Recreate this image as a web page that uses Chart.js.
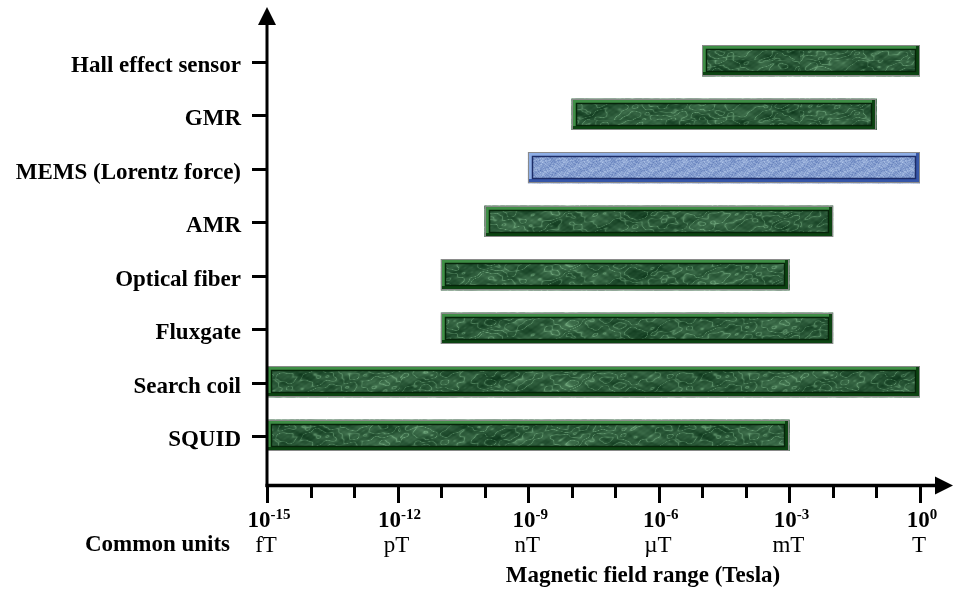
<!DOCTYPE html>
<html>
<head>
<meta charset="utf-8">
<script src="https://cdn.jsdelivr.net/npm/chart.js@4"></script>
<style>
  html, body { margin: 0; padding: 0; background: #ffffff; }
  #wrap { width: 955px; height: 590px; position: relative; }
</style>
</head>
<body>
<div id="wrap"><canvas id="c" width="955" height="590"></canvas></div>
<script>
// ---- data (exponents of 10, in Tesla) ----
const categories = ["Hall effect sensor", "GMR", "MEMS (Lorentz force)", "AMR", "Optical fiber", "Fluxgate", "Search coil", "SQUID"];
const rangeStart = [-5, -8, -9, -10, -11, -11, -15, -15];
const rangeEnd   = [ 0, -1,  0,  -2,  -3,  -2,   0,  -3];
const highlighted = ["MEMS (Lorentz force)"];
const tickExponents = [-15, -12, -9, -6, -3, 0];
const unitLabels = ["fT", "pT", "nT", "\u00B5T", "mT", "T"];
const minorTickExponents = [-15,-14,-13,-12,-11,-10,-9,-8,-7,-6,-5,-4,-3,-2,-1,0];
const unitsRowLabel = "Common units";
const xTitle = "Magnetic field range (Tesla)";

const canvas = document.getElementById('c');
const ctx0 = canvas.getContext('2d');

// ---- textures (decorative, deterministic sine-based) ----
function waves(x, y) {
  return Math.sin(x * 0.031 + y * 0.093 + 0.4)
       + 0.8 * Math.sin(x * 0.057 - y * 0.141 + 1.9)
       + 0.6 * Math.sin(x * 0.113 + y * 0.203 + 3.1)
       + 0.4 * Math.sin(x * 0.197 - y * 0.317 + 0.7)
       + 0.3 * Math.sin(x * 0.331 + y * 0.471 + 2.3);
}
function makeTexture(w, h, dark, light, mode) {
  const off = document.createElement('canvas');
  off.width = w; off.height = h;
  const c = off.getContext('2d');
  const img = c.createImageData(w, h);
  for (let y = 0; y < h; y++) {
    for (let x = 0; x < w; x++) {
      let v;
      if (mode === 'marble') {
        const n = waves(x, y);
        const warp = waves(x * 1.7 + 40, y * 1.7 + 13);
        const vein = 1 - Math.abs(Math.sin(n * 2.2 + warp * 1.3));
        const fine = waves(x * 3.1 + 7, y * 3.1 + 91);
        v = 0.25 + 0.45 * Math.pow(vein, 3) + 0.06 * fine + 0.05 * n;
      } else {
        const a = Math.sin(x * 1.3 + Math.sin(y * 0.7) * 2.0);
        const b = Math.sin(y * 1.7 + Math.sin(x * 0.5) * 2.0);
        const d = Math.sin(x * 0.29 + y * 0.53);
        v = 0.55 + 0.18 * a * b + 0.12 * Math.sin(x * 2.1 + y * 3.3) * Math.sin(x * 0.9 - y * 1.4) + 0.08 * d;
      }
      v = Math.max(0, Math.min(1, v));
      const i = (y * w + x) * 4;
      img.data[i]   = dark[0] + (light[0] - dark[0]) * v;
      img.data[i+1] = dark[1] + (light[1] - dark[1]) * v;
      img.data[i+2] = dark[2] + (light[2] - dark[2]) * v;
      img.data[i+3] = 255;
    }
  }
  c.putImageData(img, 0, 0);
  return ctx0.createPattern(off, 'repeat');
}
const greenPattern = makeTexture(400, 60, [16, 58, 30], [120, 176, 132], 'marble');
const bluePattern  = makeTexture(60, 40, [70, 100, 170], [190, 210, 240], 'weave');

const isHi = c => highlighted.includes(c);

// ---- custom plugin: bar bevels, axes with arrows, tick labels ----
const SERIF = "'Liberation Serif', 'Times New Roman', serif";
const decor = {
  id: 'decor',
  afterDatasetsDraw(chart) {
    const ctx = chart.ctx;
    const meta = chart.getDatasetMeta(0);
    meta.data.forEach((el, i) => {
      const p = el.getProps(['x', 'y', 'base', 'height'], true);
      const x0 = Math.round(Math.min(p.x, p.base)), x1 = Math.round(Math.max(p.x, p.base));
      const y0 = Math.round(p.y - p.height / 2), y1 = Math.round(p.y + p.height / 2);
      const hi = isHi(categories[i]);
      const lightC = hi ? '#8eaee6' : '#3f8e46';
      const darkC  = hi ? '#3656a8' : '#0c4412';
      const innerC = hi ? '#1c2c66' : '#06240a';
      ctx.save();
      ctx.strokeStyle = '#8a8a8a'; ctx.lineWidth = 1;
      ctx.strokeRect(x0 + 0.5, y0 + 0.5, x1 - x0 - 1, y1 - y0 - 1);
      ctx.fillStyle = lightC;
      ctx.fillRect(x0 + 1, y0 + 1, x1 - x0 - 2, 3);
      ctx.fillRect(x0 + 1, y0 + 1, 3, y1 - y0 - 2);
      ctx.fillStyle = darkC;
      ctx.fillRect(x0 + 1, y1 - 4, x1 - x0 - 2, 3);
      ctx.fillRect(x1 - 4, y0 + 1, 3, y1 - y0 - 2);
      ctx.strokeStyle = innerC; ctx.lineWidth = 1.5;
      ctx.strokeRect(x0 + 4.5, y0 + 4.5, x1 - x0 - 9, y1 - y0 - 9);
      ctx.restore();
    });
  },
  afterDraw(chart) {
    const ctx = chart.ctx;
    const xs = chart.scales.x, ys = chart.scales.y;
    const axX = xs.getPixelForValue(-15);
    const axY = 485.5;
    ctx.save();
    ctx.strokeStyle = '#000'; ctx.fillStyle = '#000';
    ctx.lineCap = 'butt';
    // y axis
    ctx.lineWidth = 3;
    ctx.beginPath(); ctx.moveTo(axX, axY + 1.5); ctx.lineTo(axX, 22); ctx.stroke();
    ctx.beginPath(); ctx.moveTo(axX, 7); ctx.lineTo(axX - 9, 25); ctx.lineTo(axX + 9, 25); ctx.closePath(); ctx.fill();
    // x axis
    ctx.lineWidth = 3.5;
    ctx.beginPath(); ctx.moveTo(axX - 1.5, axY); ctx.lineTo(938, axY); ctx.stroke();
    ctx.beginPath(); ctx.moveTo(953, axY); ctx.lineTo(935, axY - 9); ctx.lineTo(935, axY + 9); ctx.closePath(); ctx.fill();
    // x ticks
    ctx.lineWidth = 3;
    minorTickExponents.forEach(e => {
      const px = Math.round(xs.getPixelForValue(e)) + 0.5;
      const major = tickExponents.includes(e);
      ctx.beginPath(); ctx.moveTo(px, axY); ctx.lineTo(px, major ? 503 : 498); ctx.stroke();
    });
    // y ticks and labels
    ctx.textAlign = 'right'; ctx.textBaseline = 'alphabetic';
    ctx.font = 'bold 23px ' + SERIF;
    categories.forEach((c, i) => {
      const py = Math.round(ys.getPixelForValue(i)) + 1.5;
      ctx.beginPath(); ctx.moveTo(252, py); ctx.lineTo(axX, py); ctx.stroke();
      ctx.fillText(c, 241, py + 9.5);
    });
    // x tick labels: 10^e
    tickExponents.forEach((e, i) => {
      const px = xs.getPixelForValue(e);
      ctx.font = 'bold 23px ' + SERIF;
      const baseW = ctx.measureText('10').width;
      ctx.font = 'bold 15px ' + SERIF;
      const sup = String(e);
      const supW = ctx.measureText(sup).width;
      const start = px - (baseW + supW) / 2 + 2;
      ctx.textAlign = 'left';
      ctx.font = 'bold 23px ' + SERIF;
      ctx.fillText('10', start, 527);
      ctx.font = 'bold 15px ' + SERIF;
      ctx.fillText(sup, start + baseW, 519);
      ctx.textAlign = 'center';
      ctx.font = '23px ' + SERIF;
      ctx.fillText(unitLabels[i], px - 1, 552);
    });
    ctx.textAlign = 'left';
    ctx.font = 'bold 23px ' + SERIF;
    ctx.fillText(unitsRowLabel, 85, 551);
    ctx.textAlign = 'center';
    ctx.fillText(xTitle, 643, 582);
    ctx.restore();
  }
};

new Chart(canvas, {
  type: 'bar',
  data: {
    labels: categories,
    datasets: [{
      data: rangeStart.map((s, i) => [s, rangeEnd[i]]),
      backgroundColor: categories.map(c => isHi(c) ? bluePattern : greenPattern),
      borderWidth: 0,
      borderSkipped: false,
      barThickness: 31
    }]
  },
  options: {
    indexAxis: 'y',
    responsive: false,
    devicePixelRatio: 1,
    animation: false,
    events: [],
    layout: { padding: { left: 267, right: 35, top: 34, bottom: 128 } },
    plugins: { legend: { display: false }, tooltip: { enabled: false }, title: { display: false } },
    scales: {
      x: { type: 'linear', min: -15, max: 0, display: false },
      y: { type: 'category', display: false }
    }
  },
  plugins: [decor]
});
</script>
</body>
</html>
